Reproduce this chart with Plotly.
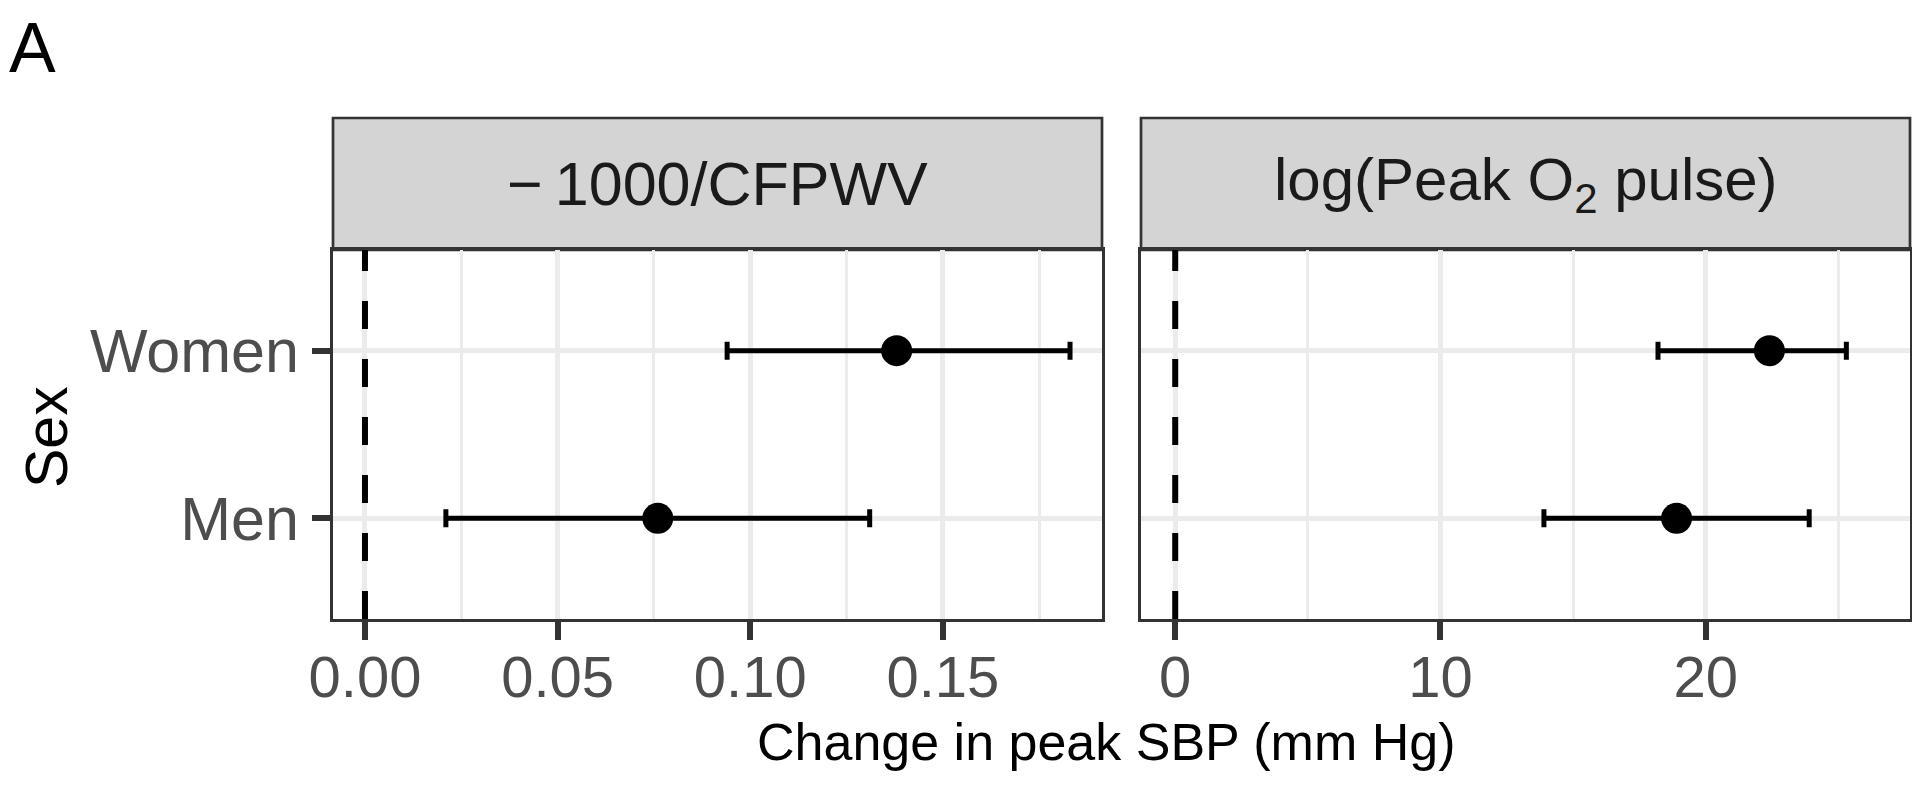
import plotly.graph_objects as go
from plotly.subplots import make_subplots

# ---- data ----
sexes = ["Women", "Men"]
panel_titles = ["\u2212\u20091000/CFPWV", "log(Peak O<sub>2</sub> pulse)"]
cfpwv_est = [0.138, 0.076]
cfpwv_lo = [0.094, 0.021]
cfpwv_hi = [0.183, 0.131]
o2_est = [22.4, 18.9]
o2_lo = [18.2, 13.9]
o2_hi = [25.3, 23.9]
x_ticks_left = [0.00, 0.05, 0.10, 0.15]
x_ticklabels_left = ["0.00", "0.05", "0.10", "0.15"]
x_ticks_right = [0, 10, 20]
x_ticklabels_right = ["0", "10", "20"]

# the html page body has an 8px margin; compensate so page pixels match
OFF = 8
W, H = 1920 - OFF, 789 - OFF
FONT = "Liberation Sans, Arial, sans-serif"
GRID = "#EBEBEB"
BORDER = "#333333"
TICKCOL = "#4D4D4D"

# layout geometry (page pixels)
L1, R1 = 333, 1102
L2, R2 = 1141, 1910
PT, PB = 250, 619
ST = 118

def px(x):
    return (x - OFF) / W

def py(y):
    return 1 - (y - OFF) / H

fig = make_subplots(rows=1, cols=2, shared_yaxes=False)

for col, (est, lo, hi) in enumerate([(cfpwv_est, cfpwv_lo, cfpwv_hi), (o2_est, o2_lo, o2_hi)], start=1):
    fig.add_trace(go.Scatter(
        x=est, y=sexes, mode="markers",
        marker=dict(color="black", size=31, line=dict(width=0)),
        error_x=dict(type="data", symmetric=False,
                     array=[h - e for h, e in zip(hi, est)],
                     arrayminus=[e - l for e, l in zip(est, lo)],
                     color="black", thickness=5, width=9),
        showlegend=False,
    ), row=1, col=col)
    fig.add_vline(x=0, line=dict(color="black", width=6, dash="28px,30px"), row=1, col=col)

common_x = dict(
    automargin=False,
    showgrid=True, gridcolor=GRID, gridwidth=4.5,
    showline=True, linecolor=BORDER, linewidth=2.7, mirror=True,
    ticks="outside", ticklen=18, tickwidth=5.5, tickcolor=BORDER,
    tickfont=dict(family=FONT, size=58, color=TICKCOL),
    ticklabelstandoff=-12,
    zeroline=False,
)
fig.update_xaxes(**common_x, range=[-0.0083, 0.1913], tickvals=x_ticks_left, ticktext=x_ticklabels_left,
                 minor=dict(tickvals=[0.025, 0.075, 0.125, 0.175], showgrid=True, gridcolor=GRID, gridwidth=2.5, ticklen=0),
                 domain=[px(L1), px(R1)], row=1, col=1)
fig.update_xaxes(**common_x, range=[-1.29, 27.7], tickvals=x_ticks_right, ticktext=x_ticklabels_right,
                 minor=dict(tickvals=[5, 15, 25], showgrid=True, gridcolor=GRID, gridwidth=2.5, ticklen=0),
                 domain=[px(L2), px(R2)], row=1, col=2)

common_y = dict(
    automargin=False,
    type="category", categoryorder="array", categoryarray=["Men", "Women"],
    range=[-0.6, 1.6],
    showgrid=True, gridcolor=GRID, gridwidth=4.5,
    showline=True, linecolor=BORDER, linewidth=2.7, mirror=True,
    zeroline=False, domain=[py(PB), py(PT)],
)
fig.update_yaxes(**common_y, ticks="outside", ticklen=18, tickwidth=5.5, tickcolor=BORDER,
                 tickfont=dict(family=FONT, size=61, color=TICKCOL), ticklabelstandoff=1, row=1, col=1)
fig.update_yaxes(**common_y, ticks="", showticklabels=False, row=1, col=2)

# strips
for (l, r), title, fs in zip([(L1, R1), (L2, R2)], panel_titles, [61, 60]):
    fig.add_shape(type="rect", xref="paper", yref="paper",
                  x0=px(l), x1=px(r), y0=py(PT), y1=py(ST),
                  fillcolor="#D4D4D4", line=dict(color=BORDER, width=2.7), layer="below")
    fig.add_annotation(x=px((l + r) / 2), y=py((ST + PT) / 2), xref="paper", yref="paper",
                       text=title, showarrow=False, xanchor="center", yanchor="middle",
                       font=dict(family=FONT, size=fs, color="#1A1A1A"))

# axis titles and panel tag
fig.add_annotation(x=px(1106), y=py(742), xref="paper", yref="paper",
                   text="Change in peak SBP (mm Hg)", showarrow=False,
                   xanchor="center", yanchor="middle",
                   font=dict(family=FONT, size=52, color="black"))
fig.add_annotation(x=px(47), y=py(437), xref="paper", yref="paper",
                   text="Sex", showarrow=False, textangle=-90,
                   xanchor="center", yanchor="middle",
                   font=dict(family=FONT, size=59, color="black"))
fig.add_annotation(x=0.0, y=1.0, xref="paper", yref="paper",
                   text="A", showarrow=False, xanchor="left", yanchor="top",
                   borderpad=0,
                   font=dict(family=FONT, size=70, color="black"))

fig.update_layout(
    width=W, height=H,
    margin=dict(l=0, r=0, t=0, b=0),
    paper_bgcolor="white", plot_bgcolor="white",
    showlegend=False,
)

fig.write_html("out.html")
